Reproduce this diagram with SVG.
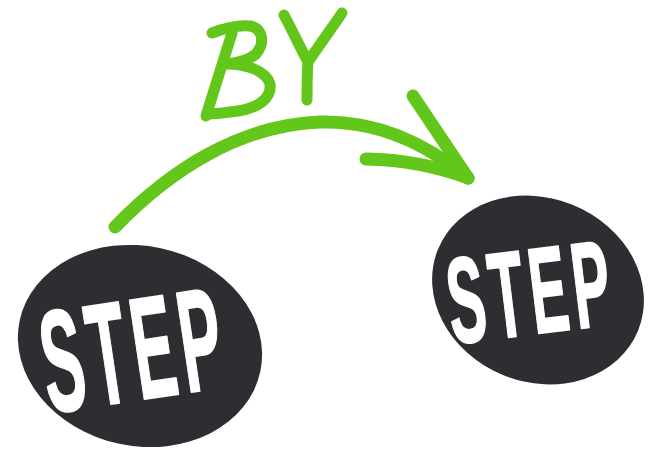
<svg xmlns="http://www.w3.org/2000/svg" width="653" height="452" viewBox="0 0 653 452">
  <style>
    .disc { fill: #2d2e32; }
    .lbl { fill: #ffffff; stroke: #ffffff; stroke-width: 2; stroke-linejoin: round; font-family: "Liberation Sans", "Arial", sans-serif; font-weight: bold; text-anchor: middle; }
    .ink { fill: none; stroke: #62c71a; stroke-linecap: round; stroke-linejoin: round; }
  </style>
  <rect width="653" height="452" fill="#ffffff"/>
  <g id="by" class="ink" stroke-width="11">
    <path d="M212,33 C225,28 240,25 250,26 C262,28 266,42 256,54 C248,61 238,63 226,64 C245,64 266,70 270,84 C272,98 258,108 238,111 C224,113 214,114 207,114"/>
    <path d="M232,33 L206,116"/>
    <path d="M284,15 C292,30 300,47 308,62 C320,44 332,28 342,13"/>
    <path d="M308,62 C307,75 307,88 307,100"/>
  </g>
  <g id="connectors" class="ink" stroke-width="13">
    <path d="M115,227 C170,170 240,125 320,122 C390,120 440,155 468,178"/>
    <path d="M413,96 L468,178"/>
    <path d="M366,159 Q420,160 468,178"/>
  </g>
  <g id="step-left">
    <ellipse class="disc" cx="140" cy="346" rx="123" ry="100" transform="rotate(12 140 346)"/>
    <text class="lbl" font-size="145" letter-spacing="14" transform="translate(134,348) rotate(-8.5) scale(0.43,1)" x="0" y="52">STEP</text>
  </g>
  <g id="step-right">
    <ellipse class="disc" cx="538" cy="290" rx="108" ry="92" transform="rotate(22 538 290)"/>
    <text class="lbl" font-size="122" letter-spacing="12" transform="translate(531,290) rotate(-7) scale(0.46,1)" x="0" y="44">STEP</text>
  </g>
</svg>
